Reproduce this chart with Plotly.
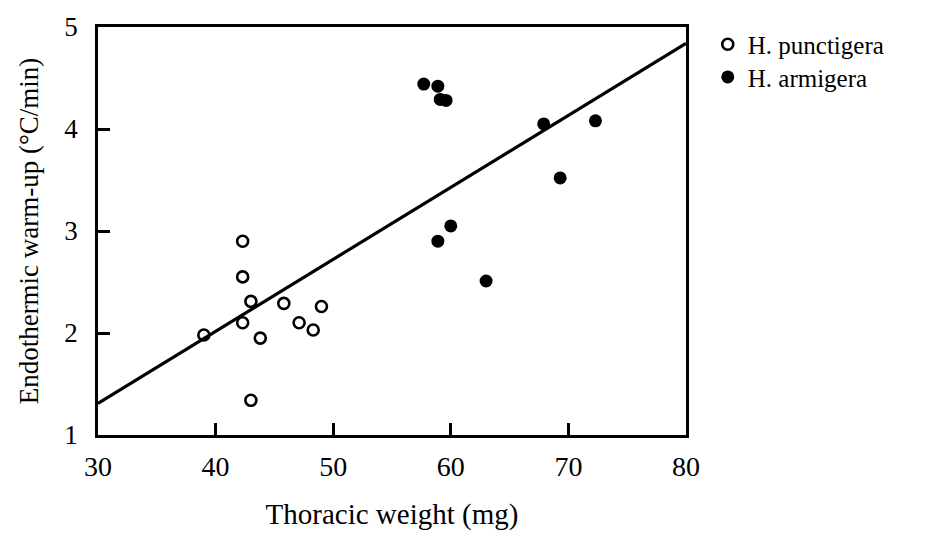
import plotly.graph_objects as go

# H. punctigera (open circles)
punct_x = [39.0, 42.3, 42.3, 42.3, 43.0, 43.0, 43.8, 45.8, 47.1, 48.3, 49.0]
punct_y = [1.98, 2.90, 2.55, 2.10, 2.31, 1.34, 1.95, 2.29, 2.10, 2.03, 2.26]

# H. armigera (filled circles)
armig_x = [57.7, 58.9, 59.1, 59.6, 67.9, 72.3, 69.3, 60.0, 58.9, 63.0]
armig_y = [4.44, 4.42, 4.29, 4.28, 4.05, 4.08, 3.52, 3.05, 2.90, 2.51]

# regression line end points
line_x = [30, 80]
line_y = [1.31, 4.84]

x_ticks = [30, 40, 50, 60, 70, 80]
y_ticks = [1, 2, 3, 4, 5]

FONT = "Liberation Serif, Times New Roman, serif"

fig = go.Figure()
fig.add_trace(go.Scatter(x=line_x, y=line_y, mode="lines",
                         line=dict(color="black", width=3.2),
                         showlegend=False, hoverinfo="skip"))
fig.add_trace(go.Scatter(x=punct_x, y=punct_y, mode="markers", name="H. punctigera",
                         legend="legend",
                         marker=dict(symbol="circle-open", size=11, color="black",
                                     line=dict(width=2.6, color="black"))))
fig.add_trace(go.Scatter(x=armig_x, y=armig_y, mode="markers", name="H. armigera",
                         legend="legend2",
                         marker=dict(symbol="circle", size=13, color="black")))

leg_common = dict(x=1.037, xanchor="left", yanchor="middle",
                  font=dict(family=FONT, size=25, color="black"),
                  bgcolor="rgba(0,0,0,0)", itemsizing="trace")

fig.update_layout(
    width=943, height=540,
    margin=dict(l=98, r=257, t=17, b=105),
    paper_bgcolor="white", plot_bgcolor="white",
    font=dict(family=FONT, size=27, color="black"),
    legend=dict(y=0.957, **leg_common),
    legend2=dict(y=0.877, **leg_common),
    xaxis=dict(range=[30, 80], tickvals=x_ticks, ticktext=[str(v) for v in x_ticks],
               ticks="inside", ticklen=12, tickwidth=2.5, tickcolor="black",
               showline=True, linewidth=2.5, linecolor="black", mirror=True,
               showgrid=False, zeroline=False, ticklabelstandoff=5,
               tickfont=dict(family=FONT, size=28),
               title=dict(text="Thoracic weight (mg)", standoff=23,
                          font=dict(family=FONT, size=29))),
    yaxis=dict(range=[1, 5], tickvals=y_ticks, ticktext=[str(v) for v in y_ticks],
               ticks="inside", ticklen=12, tickwidth=2.5, tickcolor="black",
               showline=True, linewidth=2.5, linecolor="black", mirror=True,
               showgrid=False, zeroline=False, ticklabelstandoff=12,
               tickfont=dict(family=FONT, size=27),
               title=dict(text="Endothermic warm-up (°C/min)", standoff=18,
                          font=dict(family=FONT, size=27))),
)

fig.write_html("out.html")
